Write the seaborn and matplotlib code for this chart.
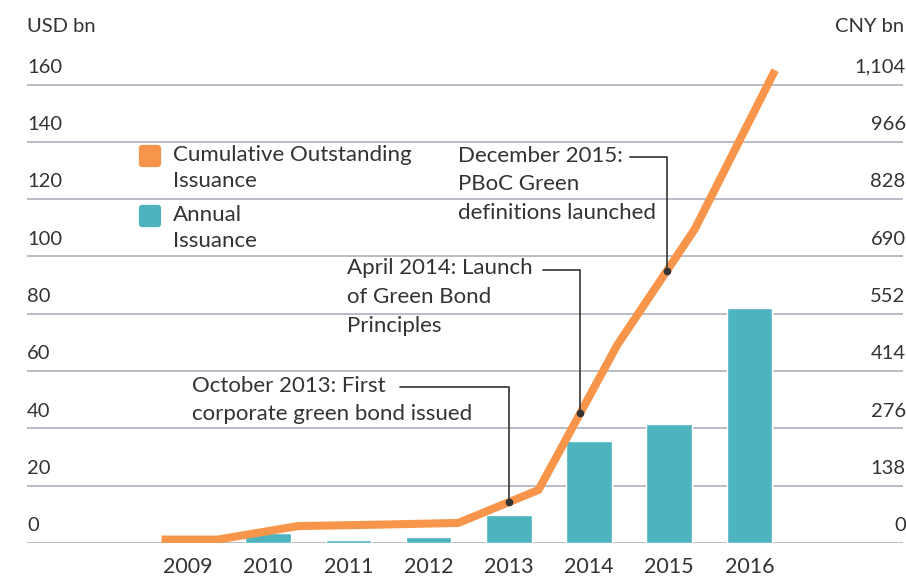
import matplotlib
matplotlib.use("Agg")
import matplotlib.pyplot as plt
import matplotlib.transforms as mtrans
from matplotlib.markers import MarkerStyle
import numpy as np
import seaborn as sns

# data (USD bn)
years = [2009, 2010, 2011, 2012, 2013, 2014, 2015, 2016]
annual = [0.0, 3.5, 1.0, 2.1, 9.8, 35.6, 41.5, 82.0]
# cumulative line: starts a little before 2009, then one point per year end
cum_x = [2008.67, 2009.37, 2010.37, 2011.37, 2012.37, 2013.37, 2014.35, 2015.32, 2016.32]
cum_y = [1.2, 1.2, 5.9, 6.4, 7.0, 18.5, 69.0, 109.6, 165.0]

usd_ticks = [0, 20, 40, 60, 80, 100, 120, 140, 160]
cny_labels = ["0", "138", "276", "414", "552", "690", "828", "966", "1,104"]

events = [
    ("October 2013: First\ncorporate green bond issued", 2013.0),
    ("April 2014: Launch\nof Green Bond\nPrinciples", 2013.89),
    ("December 2015:\nPBoC Green\ndefinitions launched", 2014.97),
]
# text placement (x, y of first line, leader start x)
event_text = [(2009.05, 54.4, 2011.64), (2010.98, 95.3, 2013.43), (2012.37, 134.7, 2014.51)]

ORANGE = "#f7964a"
TEAL = "#4db3bf"
GRID = "#b5b5c1"
TXT = "#333333"

sns.set_style("white")
plt.rcParams["font.family"] = ["Lato", "DejaVu Sans"]
plt.rcParams["font.size"] = 16

fig = plt.figure(figsize=(9.06, 5.78), dpi=100)
ax = fig.add_axes([27 / 906, 35 / 578, 876 / 906, 543 / 578])

for v in usd_ticks:
    ax.axhline(v, color=GRID, lw=1.3, zorder=0)

sns.barplot(x=years, y=annual, native_scale=True, width=0.57, color=TEAL,
            saturation=1, ax=ax, zorder=2)
sns.lineplot(x=cum_x, y=cum_y, color=ORANGE, lw=5.8, ax=ax, zorder=3,
             solid_capstyle="butt", solid_joinstyle="round")

ax.set_xlim(2009 - 2.007, 2009 + 8.915)
ax.set_ylim(0, 189.5)
for s in ax.spines.values():
    s.set_visible(False)
ax.set_yticks([])
ax.set_xticks(years)
ax.set_xticklabels([str(y) for y in years], color=TXT, fontsize=15.5)
ax.tick_params(axis="x", length=0, pad=10)
ax.set_xlabel("")
ax.set_ylabel("")

# axis labels on both sides
trans = mtrans.blended_transform_factory(ax.transAxes, ax.transData)
for v, c in zip(usd_ticks, cny_labels):
    ax.text(0, v + 6.0, str(v), transform=trans, ha="left", va="center",
            color=TXT, fontsize=14.5)
    ax.text(1.003, v + 6.0, c, transform=trans, ha="right", va="center",
            color=TXT, fontsize=14.5)
fig.text(27 / 906, 1 - 26 / 578, "USD bn", ha="left", va="center", color=TXT,
         fontsize=14.5)
fig.text(904 / 906, 1 - 26 / 578, "CNY bn", ha="right", va="center", color=TXT,
         fontsize=14.5)

# legend
leg = [(ORANGE, "Cumulative Outstanding\nIssuance", 135.0), (TEAL, "Annual\nIssuance", 114.0)]
for col, lab, yy in leg:
    ax.plot([2008.53], [yy], ls="", marker=MarkerStyle("s", joinstyle="round"),
            markersize=12, mfc=col, mec=col, mew=4.5, clip_on=False, zorder=4)
    ax.text(2008.81, yy + 4.0, lab, ha="left", va="top", color=TXT,
            linespacing=1.4)

# event annotations
for (lab, ex), (tx, ty, lx) in zip(events, event_text):
    ey = np.interp(ex, cum_x, cum_y)
    ax.plot([lx, ex, ex], [ty, ty, ey], color=TXT, lw=1.2, zorder=5)
    ax.plot([ex], [ey], "o", color=TXT, markersize=4.5, zorder=6)
    ax.text(tx, ty + 4.0, lab, ha="left", va="top", color=TXT, linespacing=1.55)

fig.savefig("out.png", dpi=100)
